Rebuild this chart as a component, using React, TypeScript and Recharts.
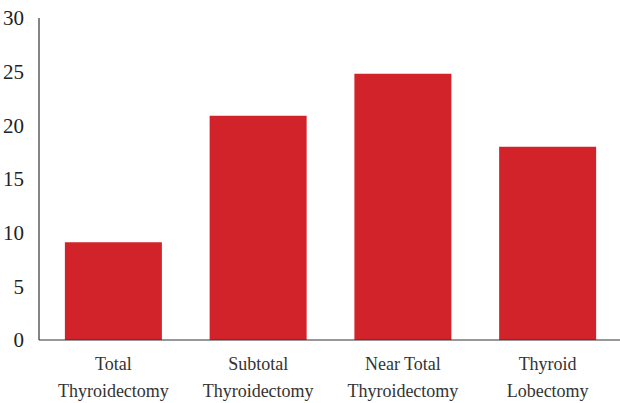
import React from 'react';
import { BarChart, Bar, XAxis, YAxis } from 'recharts';

// procedure types and their percentages
const procedures = [
  'Total Thyroidectomy',
  'Subtotal Thyroidectomy',
  'Near Total Thyroidectomy',
  'Thyroid Lobectomy'
];
const percentages = [9.1, 20.9, 24.8, 18];
const yTicks = [0, 5, 10, 15, 20, 25, 30];

const data = procedures.map((name, i) => ({ name, value: percentages[i] }));

const FONT = '"Liberation Serif", "Times New Roman", serif';

const CategoryTick = (props: any) => {
  const { x, y, payload } = props;
  const words = String(payload.value).split(' ');
  // last word on its own line, the rest above it
  const lines = [words.slice(0, -1).join(' '), words[words.length - 1]];
  return (
    <g transform={`translate(${x},${y})`}>
      {lines.map((line, i) => (
        <text
          key={i}
          x={0}
          y={22 + i * 27}
          textAnchor='middle'
          fill='#333'
          fontSize={18}
          fontFamily={FONT}
        >
          {line}
        </text>
      ))}
    </g>
  );
};

const App = () => {
  return (
    <div style={{ width: 620, height: 403 }}>
      <style>{`body { margin: 0; }`}</style>
      <BarChart
        width={620}
        height={403}
        data={data}
        margin={{ top: 18, right: 0, bottom: 3, left: 0 }}
        barCategoryGap='16.5%'
      >
        <XAxis
          dataKey='name'
          height={60}
          padding={{ left: 2, right: 0 }}
          tickLine={false}
          axisLine={{ stroke: '#333', strokeWidth: 1.2 }}
          tick={<CategoryTick />}
          interval={0}
        />
        <YAxis
          width={39}
          domain={[0, 30]}
          ticks={yTicks}
          tickLine={false}
          axisLine={{ stroke: '#333', strokeWidth: 1.2 }}
          tickMargin={9}
          tick={{ fill: '#222', fontSize: 21, fontFamily: FONT }}
        />
        <Bar dataKey='value' fill='#D2232A' isAnimationActive={false} />
      </BarChart>
    </div>
  );
};

export default App;
